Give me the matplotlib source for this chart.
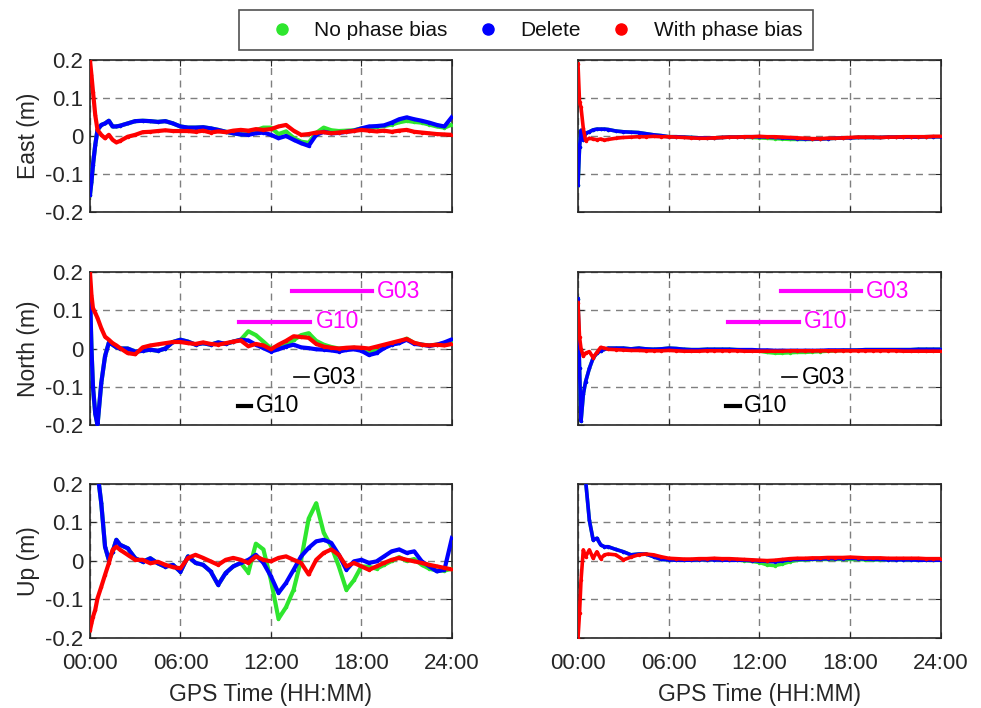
import matplotlib
matplotlib.use('Agg')
import matplotlib.pyplot as plt
from matplotlib.lines import Line2D

plt.rcParams['font.family'] = ['Liberation Sans', 'DejaVu Sans']
plt.rcParams['axes.unicode_minus'] = False

# sample epochs (hours of day), shared by every trace
hours = [0, 0.1, 0.2, 0.35, 0.5, 0.75, 1.0, 1.25, 1.5, 1.75, 2.0, 2.5, 3.0, 3.5, 4.0, 4.5,
         5.0, 5.5, 6.0, 6.5, 7.0, 7.5, 8.0, 8.5, 9.0, 9.5, 10.0, 10.5, 11.0, 11.5, 12.0, 12.5,
         13.0, 13.5, 14.0, 14.5, 15.0, 15.5, 16.0, 16.5, 17.0, 17.5, 18.0, 18.5, 19.0, 19.5,
         20.0, 20.5, 21.0, 21.5, 22.0, 22.5, 23.0, 23.5, 24.0]

# left column
east_l_green = [-0.155, -0.12, -0.076, -0.024, 0.016, 0.029, 0.033, 0.040, 0.025, 0.025, 0.027, 0.033,
                0.039, 0.040, 0.039, 0.037, 0.039, 0.033, 0.025, 0.022, 0.022, 0.023, 0.020, 0.016,
                0.011, 0.007, 0.004, 0.005, 0.015, 0.022, 0.022, 0.005, 0.012, -0.005, -0.015, -0.018,
                0.008, 0.022, 0.015, 0.013, 0.014, 0.015, 0.020, 0.022, 0.024, 0.026, 0.030, 0.036,
                0.040, 0.037, 0.035, 0.030, 0.025, 0.022, 0.030]
east_l_blue = [-0.155, -0.12, -0.076, -0.024, 0.016, 0.029, 0.033, 0.040, 0.025, 0.025, 0.027, 0.033,
               0.039, 0.040, 0.039, 0.037, 0.039, 0.033, 0.025, 0.022, 0.022, 0.023, 0.020, 0.016,
               0.011, 0.007, 0.004, 0.003, 0.007, 0.009, 0.003, -0.006, 0.0, -0.010, -0.019, -0.026,
               0.003, 0.011, 0.007, 0.008, 0.011, 0.014, 0.020, 0.025, 0.026, 0.028, 0.035, 0.044,
               0.049, 0.044, 0.040, 0.035, 0.029, 0.025, 0.050]
east_l_red = [0.2, 0.16, 0.117, 0.055, 0.016, 0.003, -0.006, 0.003, -0.010, -0.017, -0.013, -0.002,
              0.003, 0.010, 0.011, 0.013, 0.015, 0.013, 0.013, 0.013, 0.011, 0.014, 0.009, 0.012,
              0.010, 0.014, 0.016, 0.014, 0.018, 0.016, 0.018, 0.025, 0.029, 0.014, 0.003, 0.005,
              0.009, 0.010, 0.007, 0.009, 0.011, 0.013, 0.016, 0.014, 0.012, 0.014, 0.011, 0.014,
              0.016, 0.011, 0.009, 0.007, 0.005, 0.004, 0.003]

north_l_green = [0.15, 0.0, -0.10, -0.17, -0.20, -0.09, -0.02, 0.015, 0.010, 0.003, 0.0, 0.0,
                 -0.008, -0.006, -0.003, -0.006, 0.0, 0.017, 0.023, 0.018, 0.010, 0.014, 0.010, 0.016,
                 0.012, 0.018, 0.023, 0.045, 0.035, 0.018, 0.0, 0.005, 0.012, 0.022, 0.035, 0.040,
                 0.020, 0.010, 0.004, 0.0, 0.0, 0.002, -0.002, -0.010, -0.005, 0.003, 0.010, 0.015,
                 0.026, 0.014, 0.010, 0.008, 0.010, 0.014, 0.020]
north_l_blue = [0.15, 0.0, -0.10, -0.17, -0.20, -0.09, -0.02, 0.015, 0.010, 0.003, 0.0, 0.0,
                -0.008, -0.006, -0.003, -0.006, 0.0, 0.017, 0.023, 0.018, 0.010, 0.014, 0.010, 0.016,
                0.012, 0.018, 0.023, 0.021, 0.010, 0.001, -0.008, -0.002, 0.005, 0.010, 0.003, 0.001,
                -0.002, -0.003, -0.005, -0.008, -0.004, -0.002, -0.006, -0.017, -0.012, 0.001, 0.010, 0.014,
                0.023, 0.012, 0.010, 0.007, 0.010, 0.016, 0.024]
north_l_red = [0.2, 0.14, 0.105, 0.093, 0.08, 0.053, 0.031, 0.023, 0.014, 0.008, 0.001, -0.012,
               -0.015, 0.003, 0.008, 0.011, 0.014, 0.017, 0.017, 0.014, 0.012, 0.016, 0.012, 0.010,
               0.014, 0.018, 0.021, 0.006, 0.012, 0.008, -0.002, 0.010, 0.020, 0.032, 0.030, 0.028,
               0.012, 0.005, 0.002, 0.0, 0.002, 0.003, 0.002, 0.0, 0.005, 0.010, 0.015, 0.020,
               0.025, 0.015, 0.010, 0.008, 0.010, 0.008, 0.012]

up_l_green = [0.40, 0.36, 0.32, 0.28, 0.23, 0.15, 0.037, 0.003, 0.024, 0.055, 0.042, 0.033,
              0.007, -0.002, 0.007, -0.006, -0.015, -0.010, -0.028, 0.012, -0.005, -0.010, -0.027, -0.062,
              -0.031, -0.014, -0.005, -0.030, 0.045, 0.030, -0.050, -0.150, -0.120, -0.075, 0.003, 0.110,
              0.150, 0.073, 0.038, -0.014, -0.075, -0.050, -0.014, -0.015, -0.020, -0.010, 0.0, 0.010,
              0.0, 0.005, -0.010, -0.020, -0.025, -0.025, -0.020]
up_l_blue = [0.40, 0.36, 0.32, 0.28, 0.23, 0.15, 0.037, 0.003, 0.024, 0.055, 0.042, 0.033,
             0.007, -0.002, 0.007, -0.006, -0.015, -0.010, -0.028, 0.012, -0.005, -0.010, -0.027, -0.062,
             -0.031, -0.014, -0.005, 0.003, 0.016, -0.005, -0.040, -0.083, -0.057, -0.023, 0.012, 0.034,
             0.051, 0.055, 0.047, 0.016, -0.023, -0.001, 0.003, -0.005, -0.001, 0.012, 0.025, 0.030,
             0.021, 0.025, -0.001, -0.014, -0.027, -0.023, 0.060]
up_l_red = [-0.18, -0.162, -0.145, -0.127, -0.097, -0.067, -0.036, -0.006, 0.029, 0.037, 0.029, 0.016,
            0.003, 0.003, -0.006, -0.002, -0.010, -0.016, -0.019, 0.008, 0.016, 0.008, -0.001, -0.010,
            0.003, 0.008, 0.003, -0.005, 0.012, 0.003, -0.001, 0.008, 0.012, 0.003, -0.005, -0.035,
            0.003, 0.021, 0.030, 0.016, -0.014, -0.005, -0.014, -0.023, -0.014, -0.005, 0.003, 0.008,
            0.003, -0.001, -0.005, -0.010, -0.014, -0.018, -0.022]

# right column
east_r_green = [-0.13, -0.03, 0.015, -0.01, 0.007, 0.011, 0.016, 0.018, 0.018, 0.018, 0.017, 0.013,
                0.011, 0.010, 0.009, 0.006, 0.003, 0.001, -0.002, -0.002, -0.003, -0.004, -0.005, -0.005,
                -0.005, -0.004, -0.003, -0.003, -0.003, -0.004, -0.005, -0.006, -0.007, -0.008, -0.009, -0.009,
                -0.009, -0.009, -0.008, -0.007, -0.006, -0.005, -0.005, -0.004, -0.004, -0.004, -0.004, -0.003,
                -0.003, -0.003, -0.003, -0.003, -0.002, -0.002, -0.002]
east_r_blue = [-0.13, -0.03, 0.015, -0.01, 0.007, 0.011, 0.016, 0.018, 0.018, 0.018, 0.017, 0.013,
               0.011, 0.010, 0.009, 0.006, 0.003, 0.001, -0.002, -0.002, -0.003, -0.004, -0.005, -0.005,
               -0.005, -0.004, -0.003, -0.003, -0.002, -0.002, -0.002, -0.003, -0.004, -0.005, -0.006, -0.007,
               -0.008, -0.008, -0.008, -0.007, -0.006, -0.005, -0.005, -0.004, -0.004, -0.004, -0.004, -0.003,
               -0.003, -0.003, -0.003, -0.003, -0.002, -0.002, -0.002]
east_r_red = [0.19, 0.09, 0.075, 0.02, -0.012, -0.006, -0.008, -0.010, -0.008, -0.011, -0.009, -0.006,
              -0.004, -0.003, -0.002, -0.002, -0.001, -0.002, -0.002, -0.003, -0.004, -0.005, -0.006, -0.006,
              -0.005, -0.004, -0.003, -0.003, -0.002, -0.002, -0.001, -0.002, -0.002, -0.003, -0.004, -0.005,
              -0.006, -0.007, -0.007, -0.006, -0.006, -0.005, -0.004, -0.003, -0.003, -0.003, -0.004, -0.003,
              -0.003, -0.002, -0.002, -0.002, -0.002, -0.001, -0.001]

north_r_green = [0.13, -0.05, -0.19, -0.12, -0.087, -0.052, -0.025, -0.012, -0.006, -0.002, 0.001, 0.001,
                 0.001, -0.001, 0.001, -0.001, -0.002, -0.001, 0.001, 0.0, -0.002, -0.003, -0.003, -0.002,
                 -0.002, -0.002, -0.002, -0.003, -0.004, -0.005, -0.007, -0.010, -0.012, -0.012, -0.011, -0.010,
                 -0.010, -0.009, -0.008, -0.007, -0.006, -0.005, -0.005, -0.004, -0.003, -0.003, -0.003, -0.003,
                 -0.003, -0.003, -0.003, -0.002, -0.002, -0.002, -0.002]
north_r_blue = [0.13, -0.05, -0.19, -0.12, -0.087, -0.052, -0.025, -0.012, -0.006, -0.002, 0.001, 0.001,
                0.001, -0.001, 0.001, -0.001, -0.002, -0.001, 0.001, 0.0, -0.002, -0.003, -0.003, -0.002,
                -0.002, -0.002, -0.002, -0.003, -0.003, -0.003, -0.004, -0.004, -0.005, -0.005, -0.005, -0.005,
                -0.005, -0.005, -0.005, -0.004, -0.004, -0.004, -0.004, -0.004, -0.003, -0.003, -0.003, -0.003,
                -0.003, -0.003, -0.003, -0.002, -0.002, -0.002, -0.002]
north_r_red = [0.12, 0.03, 0.0, -0.02, -0.012, -0.008, -0.024, -0.010, 0.003, 0.001, -0.002, -0.003,
               -0.004, -0.005, -0.005, -0.006, -0.006, -0.006, -0.005, -0.006, -0.007, -0.007, -0.007, -0.006,
               -0.006, -0.006, -0.006, -0.006, -0.007, -0.007, -0.007, -0.007, -0.007, -0.007, -0.006, -0.006,
               -0.006, -0.006, -0.006, -0.006, -0.006, -0.006, -0.006, -0.006, -0.006, -0.006, -0.006, -0.006,
               -0.006, -0.007, -0.007, -0.007, -0.007, -0.007, -0.007]

up_r_green = [0.40, 0.35, 0.30, 0.25, 0.21, 0.106, 0.055, 0.059, 0.042, 0.037, 0.037, 0.030,
              0.024, 0.016, 0.018, 0.018, 0.011, 0.004, 0.003, 0.002, 0.002, 0.002, 0.003, 0.003,
              0.003, 0.002, 0.002, 0.002, 0.001, -0.001, -0.004, -0.010, -0.012, -0.008, -0.002, 0.002,
              0.003, 0.004, 0.004, 0.004, 0.004, 0.004, 0.004, 0.004, 0.003, 0.003, 0.003, 0.003,
              0.003, 0.003, 0.002, 0.002, 0.002, 0.002, 0.002]
up_r_blue = [0.40, 0.35, 0.30, 0.25, 0.21, 0.106, 0.055, 0.059, 0.042, 0.037, 0.037, 0.030,
             0.024, 0.016, 0.018, 0.018, 0.011, 0.004, 0.003, 0.002, 0.002, 0.002, 0.003, 0.003,
             0.003, 0.002, 0.002, 0.002, 0.002, 0.001, 0.0, -0.001, -0.002, 0.0, 0.003, 0.004,
             0.004, 0.005, 0.005, 0.006, 0.006, 0.006, 0.007, 0.006, 0.005, 0.004, 0.004, 0.003,
             0.003, 0.003, 0.003, 0.002, 0.002, 0.002, 0.002]
up_r_red = [-0.20, -0.136, -0.05, 0.029, 0.011, 0.029, 0.007, 0.024, 0.006, 0.016, 0.018, 0.016,
            0.003, 0.010, 0.016, 0.018, 0.016, 0.011, 0.007, 0.006, 0.005, 0.005, 0.006, 0.006,
            0.007, 0.006, 0.006, 0.005, 0.004, 0.003, 0.002, 0.001, 0.002, 0.004, 0.006, 0.007,
            0.007, 0.008, 0.008, 0.009, 0.009, 0.009, 0.010, 0.009, 0.008, 0.008, 0.008, 0.007,
            0.007, 0.007, 0.007, 0.007, 0.006, 0.006, 0.006]

# satellite annotations in the North panels: (name, start h, end h, level m)
outage_bars = [('G03', 13.4, 18.7, 0.15), ('G10', 9.9, 14.6, 0.07)]
marker_bars = [('G03', 13.5, 14.5, -0.075, 1.2), ('G10', 9.8, 10.7, -0.15, 3.0)]

series_labels = ['No phase bias', 'Delete', 'With phase bias']
series_colors = ['#2EE62E', '#0000FF', '#FF0000']
row_labels = ['East (m)', 'North (m)', 'Up (m)']
time_ticks = [0, 6, 12, 18, 24]
time_labels = ['00:00', '06:00', '12:00', '18:00', '24:00']
y_ticks = [-0.2, -0.1, 0, 0.1, 0.2]
y_labels = ['-0.2', '-0.1', '0', '0.1', '0.2']


def main():
    fig = plt.figure(figsize=(9.81, 7.08), dpi=100)
    tick_fs = 16
    label_fs = 16.5
    dark = '#262626'

    panels = [
        [(east_l_green, east_l_blue, east_l_red), (east_r_green, east_r_blue, east_r_red)],
        [(north_l_green, north_l_blue, north_l_red), (north_r_green, north_r_blue, north_r_red)],
        [(up_l_green, up_l_blue, up_l_red), (up_r_green, up_r_blue, up_r_red)],
    ]
    lefts = [0.0917, 0.5892]
    widths = [0.369, 0.370]
    bottoms = [0.7006, 0.3997, 0.0989]
    heights = [0.2147, 0.2161, 0.2175]
    line_w = [3.0, 2.6]

    for r in range(3):
        for c in range(2):
            ax = fig.add_axes([lefts[c], bottoms[r], widths[c], heights[r]])
            for vals, col in zip(panels[r][c], series_colors):
                ax.plot(hours, vals, color=col, lw=line_w[c], marker='.', ms=3, zorder=3)
            ax.set_xlim(0, 24)
            ax.set_ylim(-0.2, 0.2)
            ax.set_xticks(time_ticks)
            ax.set_yticks(y_ticks)
            ax.grid(True, color='#7f7f7f', ls=(0, (5, 4)), lw=1.0)
            ax.tick_params(direction='in', length=4, top=True, right=True,
                           colors=dark, labelsize=tick_fs, labelcolor=dark)
            ax.tick_params(axis='x', pad=11)
            ax.tick_params(axis='y', pad=5)
            for s in ax.spines.values():
                s.set_color(dark)
                s.set_linewidth(1.2)
            if c == 0:
                ax.set_yticklabels(y_labels)
                ax.set_ylabel(row_labels[r], fontsize=label_fs, color=dark, labelpad=3)
            else:
                ax.set_yticklabels([])
            if r == 2:
                ax.set_xticklabels(time_labels)
                ax.set_xlabel('GPS Time (HH:MM)', fontsize=label_fs, color=dark, labelpad=6)
            else:
                ax.set_xticklabels([])

            if r == 1:
                for name, t0, t1, lvl in outage_bars:
                    ax.plot([t0, t1], [lvl, lvl], color='#FF00FF', lw=3, zorder=4)
                    ax.text(t1 + 0.35, lvl, name, color='#FF00FF', fontsize=label_fs,
                            va='center', ha='left', zorder=5)
                for name, t0, t1, lvl, w in marker_bars:
                    ax.plot([t0, t1], [lvl, lvl], color='black', lw=w, zorder=4)
                    ax.text(t1 + 0.3, lvl, name, color='black', fontsize=label_fs,
                            va='center', ha='left', zorder=5)

    handles = [Line2D([], [], ls='none', marker='o', ms=8, color=col) for col in series_colors]
    leg = fig.legend(handles, series_labels, loc='upper center', bbox_to_anchor=(0.536, 1.0),
                     ncol=3, fontsize=15, frameon=True, fancybox=False, edgecolor=dark,
                     handletextpad=0.0, columnspacing=0.4, borderpad=0.5, handlelength=3.1)
    leg.get_frame().set_linewidth(1.2)
    for t in leg.get_texts():
        t.set_color('#111111')

    fig.savefig('out.png', dpi=100)


if __name__ == '__main__': main()
